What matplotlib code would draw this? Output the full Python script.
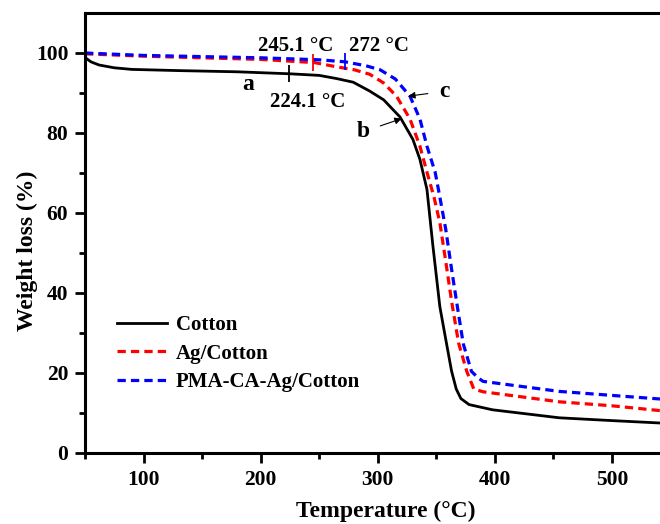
import numpy as np
import matplotlib
matplotlib.use("Agg")
import matplotlib.pyplot as plt

plt.rcParams['font.family'] = ['Liberation Serif', 'DejaVu Serif']
plt.rcParams['font.weight'] = 'bold'

# TGA curves
cotton_t = [50, 55, 62, 75, 90, 130, 180, 225, 250, 265, 279, 293, 305, 319, 330, 336,
            342, 347, 353, 358, 363, 367, 371, 378, 398, 455, 500, 541]
cotton_w = [98.9, 97.8, 97.0, 96.3, 95.9, 95.6, 95.3, 94.8, 94.4, 93.6, 92.7, 90.5, 88.3, 84.0,
            78.4, 73.4, 65.9, 52.0, 36.6, 28.5, 20.5, 16.0, 13.6, 12.1, 10.8, 8.8, 8.1, 7.5]

ag_t = [50, 100, 150, 200, 246, 262, 280, 293, 305, 316, 327.5, 336, 342, 348, 353, 358,
        363, 369, 376, 382, 390, 455, 500, 541]
ag_w = [99.8, 99.2, 98.8, 98.4, 97.6, 96.7, 95.8, 94.7, 92.5, 89.2, 83.5, 76.7, 70.2, 64.0,
        57.6, 48.0, 38.0, 27.5, 20.4, 16.0, 15.3, 12.8, 11.8, 10.6]

pma_t = [50, 100, 150, 200, 250, 272, 290, 302, 315, 327.5, 336, 342, 349, 353, 358, 363,
         368, 373, 380, 386, 390, 455, 500, 541]
pma_w = [100.0, 99.4, 99.1, 98.8, 98.3, 97.8, 96.8, 95.8, 93.5, 89.2, 83.5, 76.7, 70.2, 64.0,
         56.0, 46.0, 36.5, 27.3, 20.4, 18.7, 17.9, 15.4, 14.4, 13.5]

labels = ['Cotton', 'Ag/Cotton', 'PMA-CA-Ag/Cotton']
onset = [224.1, 245.1, 272]
onset_text = ['224.1 \u00b0C', '245.1 \u00b0C', '272 \u00b0C']

fig = plt.figure(figsize=(6.6, 5.24), dpi=100)
ax = fig.add_axes([85 / 660, 1 - 453 / 524, 1 - 85 / 660, 440 / 524])

dash = (0, (2.6, 1.6))
ax.plot(cotton_t, cotton_w, color='black', lw=2.0, label=labels[0])
ax.plot(ag_t, ag_w, color='#FF0000', lw=2.3, ls=dash, label=labels[1])
ax.plot(pma_t, pma_w, color='#0000FF', lw=2.3, ls=dash, label=labels[2])

# onset markers on each curve
curves = [(cotton_t, cotton_w, 'black'), (ag_t, ag_w, '#FF0000'), (pma_t, pma_w, '#0000FF')]
for (t, w, c), T in zip(curves, onset):
    y = np.interp(T, t, w)
    ax.vlines(T, y - 2.1, y + 2.1, color=c, lw=1.3)

ax.text(240, 87.8, onset_text[0], fontsize=15, ha='center', va='center')
ax.text(230, 101.7, onset_text[1], fontsize=15, ha='center', va='center')
ax.text(301, 101.7, onset_text[2], fontsize=15, ha='center', va='center')

ax.text(189, 92.0, 'a', fontsize=17, ha='center', va='center')
ax.annotate('b', xy=(320.4, 83.6), xytext=(287.4, 80.3), fontsize=17, ha='center', va='center',
            arrowprops=dict(arrowstyle='-|>', color='black', lw=0.8, mutation_scale=10,
                            shrinkA=6, shrinkB=0))
ax.annotate('c', xy=(326, 89.2), xytext=(356.6, 90.4), fontsize=17, ha='center', va='center',
            arrowprops=dict(arrowstyle='-|>', color='black', lw=0.8, mutation_scale=10,
                            shrinkA=6, shrinkB=0))

ax.set_xlim(50, 541)
ax.set_ylim(0, 110)
ax.set_xticks([100, 200, 300, 400, 500])
ax.set_xticks(np.arange(50, 541, 50), minor=True)
ax.set_yticks([0, 20, 40, 60, 80, 100])
ax.set_yticks(np.arange(0, 110, 10), minor=True)
ax.tick_params(which='major', direction='out', length=7, width=2, labelsize=15.5, pad=5)
ax.tick_params(which='minor', direction='out', length=4, width=2)
ax.spines['right'].set_visible(False)
for s in ['left', 'bottom', 'top']:
    ax.spines[s].set_linewidth(2.2)

ax.set_xlabel('Temperature (\u00b0C)', fontsize=17, fontweight='bold')
ax.set_ylabel('Weight loss (%)', fontsize=17, fontweight='bold')
ax.xaxis.set_label_coords((386 - 85) / 575, -0.108)
ax.yaxis.set_label_coords(-0.082, 0.46)

ax.legend(loc='upper left', bbox_to_anchor=(0.055, 0.313), frameon=False, fontsize=15,
          handlelength=2.4, handletextpad=0.45, labelspacing=0.4, borderpad=0,
          borderaxespad=0)

fig.savefig('out.png', dpi=100)
